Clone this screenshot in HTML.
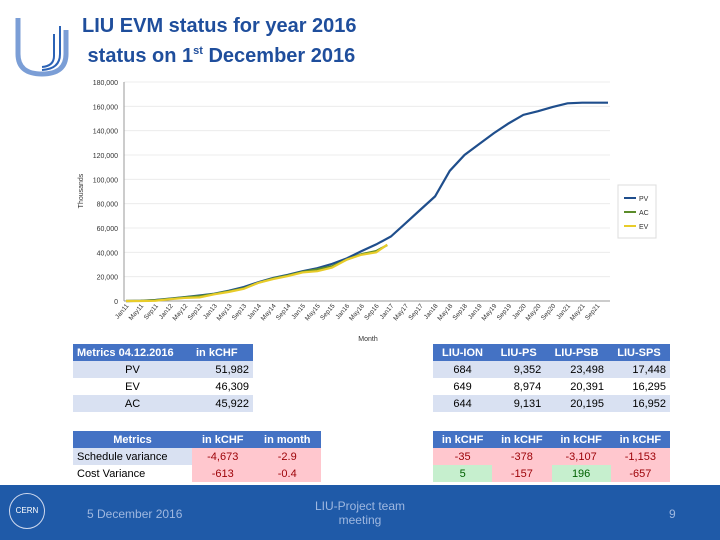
<!DOCTYPE html>
<html><head><meta charset="utf-8"><style>
body{margin:0;width:720px;height:540px;background:#fff;position:relative;overflow:hidden;font-family:"Liberation Sans",sans-serif}
.t{position:absolute;border-collapse:collapse;font-family:"Liberation Sans",sans-serif;font-size:11px}
.t td{height:17px;padding:0 4px;white-space:nowrap}
.h td{background:#4472c4;color:#fff;font-weight:bold}
.l td{background:#d9e1f2}
.w td{background:#fff}
.r{text-align:right}.c{text-align:center}
.pk{background:#ffc7ce!important;color:#9c0006}.gn{background:#c6efce!important;color:#006100}
</style></head><body>
<svg style="position:absolute;left:14px;top:14px" width="56" height="64"><path d="M4 4 V40 Q4 60 28 60 Q52 60 52 40 V16" fill="none" stroke="#7b9ed6" stroke-width="5"/><path d="M46 12 V40 Q46 55 28 56" fill="none" stroke="#2b62b5" stroke-width="2"/><path d="M40 20 V42 Q40 52 28 53" fill="none" stroke="#2b62b5" stroke-width="2"/></svg>
<div style="position:absolute;left:82px;top:11px;font-size:20px;font-weight:bold;color:#1f4e9c;line-height:30px">LIU EVM status for year 2016<br>&nbsp;status on 1<sup style="font-size:11px;line-height:0;vertical-align:8px">st</sup> December 2016</div>
<svg id="chart" style="position:absolute;left:0;top:0" width="720" height="345"></svg>
<table class="t" style="left:73px;top:344px;width:180px">
<tr class="h"><td style="width:111px">Metrics 04.12.2016</td><td>in kCHF</td></tr>
<tr class="l"><td class="c">PV</td><td class="r">51,982</td></tr>
<tr class="w"><td class="c">EV</td><td class="r">46,309</td></tr>
<tr class="l"><td class="c">AC</td><td class="r">45,922</td></tr></table>
<table class="t" style="left:433px;top:344px;width:237px">
<tr class="h"><td class="c">LIU-ION</td><td class="c">LIU-PS</td><td class="c">LIU-PSB</td><td class="c">LIU-SPS</td></tr>
<tr class="l"><td class="c">684</td><td class="r">9,352</td><td class="r">23,498</td><td class="r">17,448</td></tr>
<tr class="w"><td class="c">649</td><td class="r">8,974</td><td class="r">20,391</td><td class="r">16,295</td></tr>
<tr class="l"><td class="c">644</td><td class="r">9,131</td><td class="r">20,195</td><td class="r">16,952</td></tr></table>
<table class="t" style="left:73px;top:431px;width:248px">
<tr class="h"><td class="c" style="width:111px">Metrics</td><td class="c">in kCHF</td><td class="c">in month</td></tr>
<tr class="l"><td>Schedule variance</td><td class="c pk">-4,673</td><td class="c pk">-2.9</td></tr>
<tr class="w"><td>Cost Variance</td><td class="c pk">-613</td><td class="c pk">-0.4</td></tr></table>
<table class="t" style="left:433px;top:431px;width:237px">
<tr class="h"><td class="c">in kCHF</td><td class="c">in kCHF</td><td class="c">in kCHF</td><td class="c">in kCHF</td></tr>
<tr><td class="c pk">-35</td><td class="c pk">-378</td><td class="c pk">-3,107</td><td class="c pk">-1,153</td></tr>
<tr><td class="c gn">5</td><td class="c pk">-157</td><td class="c gn">196</td><td class="c pk">-657</td></tr></table>
<div style="position:absolute;left:0;top:485px;width:720px;height:55px;background:#1f5aa8;color:#9fb8e0;font-size:12px">
<div style="position:absolute;left:9px;top:8px;width:34px;height:34px;border:1px solid #cfd9ee;border-radius:50%;color:#fff;font-size:8px;line-height:34px;text-align:center">CERN</div>
<div style="position:absolute;left:87px;top:22px">5 December 2016</div>
<div style="position:absolute;left:300px;top:14px;width:120px;text-align:center">LIU-Project team meeting</div>
<div style="position:absolute;left:669px;top:22px">9</div></div>
<script>
const months=["Jan","May","Sep"];
const labelYears=[11,12,13,14,15,16,17,18,19,20,21];
const pvMonths=[0,4,8,12,16,20,24,28,32,36,40,44,48,52,56,60,64,68,72,76,80,84,88,92,96,100,104,108,112,116,120,124,128,131];
const pvValues=[0,200,800,2000,3200,4500,6000,8500,11500,15500,19000,21500,24500,27000,30500,35000,41000,46500,53000,64000,75000,86000,107000,120000,129000,138000,146000,153000,156000,159500,162500,163000,163000,163000];
const acMonths=[0,4,8,12,16,20,24,28,32,36,40,44,48,52,56,60,64,68,71];
const acValues=[0,100,600,1800,3000,4000,5800,8000,10500,15000,18500,21000,24000,26000,28500,34000,38500,41000,46000];
const evValues=[0,0,200,1500,2500,3000,5500,7500,10000,15000,18000,20500,23500,24500,27500,34000,38000,40000,46300];
const yTicks=[0,20000,40000,60000,80000,100000,120000,140000,160000,180000];
const svg=document.getElementById('chart');const NS='http://www.w3.org/2000/svg';
const X0=126,X1=608,Y0=301,Y1=82;
const xs=m=>X0+(X1-X0)*m/131, ys=v=>Y0-(Y0-Y1)*v/180000;
function mk(t,a,p){const e=document.createElementNS(NS,t);for(const k in a)e.setAttribute(k,a[k]);(p||svg).appendChild(e);return e}
yTicks.forEach(v=>{
 const g=mk('line',{x1:124,x2:610,y1:ys(v),y2:ys(v),stroke:v?'#ececec':'#999'});
 
 
 const t=mk('text',{x:118,y:ys(v)+3,'text-anchor':'end','font-size':7,fill:'#333','font-family':'Liberation Sans'});t.textContent=v.toLocaleString('en-US');
 
 
});
const ax=mk('line',{x1:124,x2:124,y1:Y1,y2:Y0,stroke:'#999'});


labelYears.forEach(y=>months.forEach((mo,k)=>{const m=(y-11)*12+k*4;const x=xs(m);
 const t=mk('text',{x:x+3,y:306,'text-anchor':'end','font-size':6.5,fill:'#333','font-family':'Liberation Sans',transform:`rotate(-50 ${x+3} 306)`});t.textContent=mo+y;
 
 }));
const yt=mk('text',{x:83,y:191,'text-anchor':'middle','font-size':7,fill:'#333','font-family':'Liberation Sans',transform:'rotate(-90 83 191)'});yt.textContent='Thousands';


const xt=mk('text',{x:368,y:341,'text-anchor':'middle','font-size':7,fill:'#333','font-family':'Liberation Sans'});xt.textContent='Month';


function line(ms,vs,c,name){const p=mk('polyline',{points:ms.map((m,j)=>xs(m)+','+ys(vs[j])).join(' '),fill:'none',stroke:c,'stroke-width':2.2});
 
 }
line(pvMonths,pvValues,'#1f4e8c','pv-line');line(acMonths,acValues,'#5b8c2a','ac-line');line(acMonths,evValues,'#e8cc2a','ev-line');
const lg=mk('rect',{x:618,y:185,width:38,height:53,fill:'#fff',stroke:'#ddd'});


[['PV','#1f4e8c'],['AC','#5b8c2a'],['EV','#e8cc2a']].forEach((d,j)=>{const y=198+j*14;
 const l=mk('line',{x1:624,x2:636,y1:y,y2:y,stroke:d[1],'stroke-width':2});
 
 
 const t=mk('text',{x:639,y:y+3,'font-size':7,fill:'#333','font-family':'Liberation Sans'});t.textContent=d[0];
 
 });
</script></body></html>
